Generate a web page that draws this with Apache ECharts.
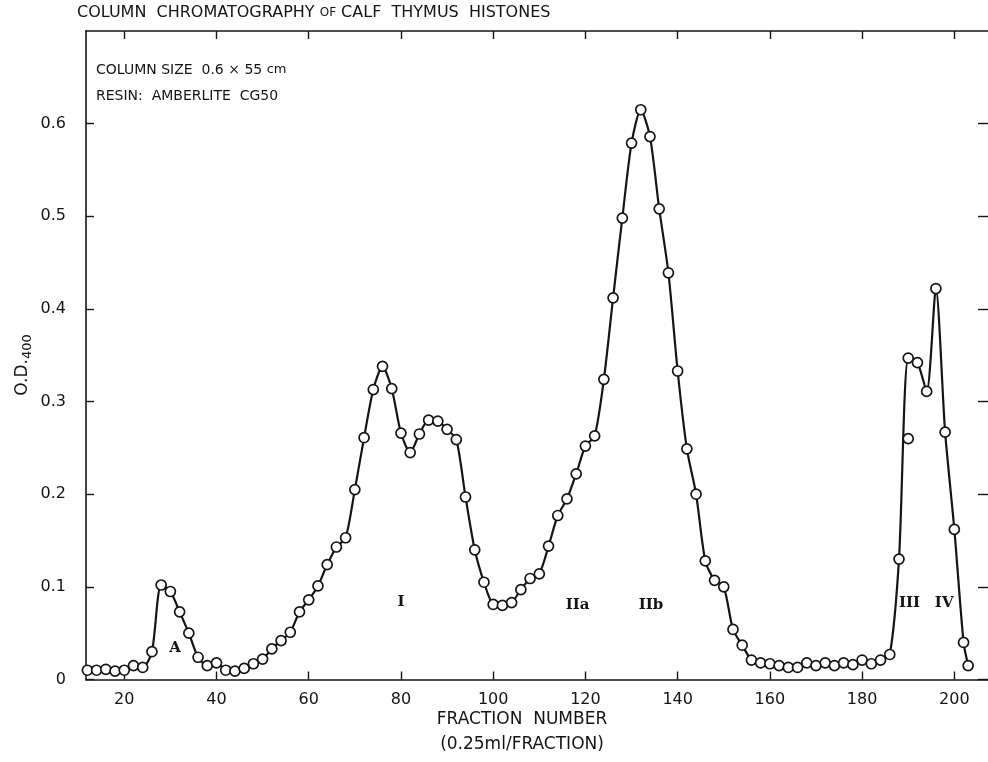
<!DOCTYPE html>
<html><head><meta charset="utf-8">
<script src="https://cdn.jsdelivr.net/npm/echarts@6/dist/echarts.min.js"></script>
<style>html,body{margin:0;padding:0;background:#fff}#c{width:988px;height:762px}</style>
</head><body><div id="c"></div>
<script>
// Fraction numbers (every 2nd fraction) and optical density at 400 nm
const fractions = [12,14,16,18,20,22,24,26,28,30,32,34,36,38,40,42,44,46,48,50,
  52,54,56,58,60,62,64,66,68,70,72,74,76,78,80,82,84,86,88,90,
  92,94,96,98,100,102,104,106,108,110,112,114,116,118,120,122,124,126,128,130,
  132,134,136,138,140,142,144,146,148,150,152,154,156,158,160,162,164,166,168,170,
  172,174,176,178,180,182,184,186,188,190,192,194,196,198,200,202,203];
const od = [0.010,0.010,0.011,0.009,0.010,0.015,0.013,0.030,0.102,0.095,
  0.073,0.050,0.024,0.015,0.018,0.010,0.009,0.012,0.017,0.022,
  0.033,0.042,0.051,0.073,0.086,0.101,0.124,0.143,0.153,0.205,
  0.261,0.313,0.338,0.314,0.266,0.245,0.265,0.280,0.279,0.270,
  0.259,0.197,0.140,0.105,0.081,0.080,0.083,0.097,0.109,0.114,
  0.144,0.177,0.195,0.222,0.252,0.263,0.324,0.412,0.498,0.579,
  0.615,0.586,0.508,0.439,0.333,0.249,0.200,0.128,0.107,0.100,
  0.054,0.037,0.021,0.018,0.017,0.015,0.013,0.013,0.018,0.015,
  0.018,0.015,0.018,0.016,0.021,0.017,0.021,0.027,0.130,0.347,
  0.342,0.311,0.422,0.267,0.162,0.040,0.015];
// Off-curve duplicate reading
const extraFractions = [190];
const extraOd = [0.260];
// Axis ticks
const xTicks = [20,40,60,80,100,120,140,160,180,200];
const yTicks = [0,0.1,0.2,0.3,0.4,0.5,0.6];
// Peak labels
const peakNames = ['A','I','IIa','IIb','III','IV'];
const peakX = [31,80,118.3,134.2,190.3,197.8];
const peakY = [0.034,0.083,0.080,0.080,0.082,0.082];

const INK = '#141414';
const FONT = 'DejaVu Sans';
const chart = echarts.init(document.getElementById('c'), null, {renderer: 'canvas'});

const axisLineStyle = {color: INK, width: 1.6};
const option = {
  backgroundColor: '#ffffff',
  animation: false,
  grid: {left: 86, right: 0, top: 31, bottom: 82.5, containLabel: false},
  xAxis: [
    {type: 'value', position: 'bottom', min: 11.7, max: 207.3,
      axisLine: {show: true, onZero: false, lineStyle: axisLineStyle},
      axisTick: {show: true, inside: true, length: 8, customValues: xTicks, lineStyle: {color: INK, width: 1.4}},
      axisLabel: {show: true, customValues: xTicks, margin: 12, color: INK, fontFamily: FONT, fontSize: 16},
      splitLine: {show: false}},
    {type: 'value', position: 'top', min: 11.7, max: 207.3,
      axisLine: {show: true, onZero: false, lineStyle: axisLineStyle},
      axisTick: {show: true, inside: true, length: 8, customValues: xTicks, lineStyle: {color: INK, width: 1.4}},
      axisLabel: {show: false}, splitLine: {show: false}}
  ],
  yAxis: [
    {type: 'value', position: 'left', min: 0, max: 0.7,
      axisLine: {show: true, onZero: false, lineStyle: axisLineStyle},
      axisTick: {show: true, inside: true, length: 8, customValues: yTicks, lineStyle: {color: INK, width: 1.4}},
      axisLabel: {show: true, customValues: yTicks, margin: 20, color: INK, fontFamily: FONT, fontSize: 16,
        formatter: v => v === 0 ? '0' : v.toFixed(1)},
      splitLine: {show: false}},
    {type: 'value', position: 'right', min: 0, max: 0.7,
      axisLine: {show: false, onZero: false},
      axisTick: {show: true, inside: true, length: 10, customValues: yTicks, lineStyle: {color: INK, width: 1.4}},
      axisLabel: {show: false}, splitLine: {show: false}}
  ],
  series: [
    {type: 'line', xAxisIndex: 0, yAxisIndex: 0,
      data: fractions.map((f, i) => [f, od[i]]),
      smooth: 0.25,
      symbol: 'circle', symbolSize: 10, showAllSymbol: true,
      lineStyle: {color: INK, width: 2.2},
      itemStyle: {color: '#ffffff', borderColor: INK, borderWidth: 1.7, opacity: 1},
      z: 3},
    {type: 'scatter', xAxisIndex: 0, yAxisIndex: 0,
      data: extraFractions.map((f, i) => [f, extraOd[i]]),
      symbol: 'circle', symbolSize: 10,
      itemStyle: {color: '#ffffff', borderColor: INK, borderWidth: 1.7, opacity: 1}, z: 4},
    {type: 'scatter', xAxisIndex: 0, yAxisIndex: 0,
      data: peakNames.map((n, i) => ({value: [peakX[i], peakY[i]], name: n})),
      symbolSize: 0, silent: true,
      itemStyle: {opacity: 1},
      label: {show: true, position: 'inside', formatter: p => p.name, opacity: 1,
        color: INK, fontFamily: 'DejaVu Serif', fontSize: 15, fontWeight: 'bold'},
      z: 5}
  ],
  graphic: [
    {type: 'text', left: 77, top: 5,
      style: {text: '{a|COLUMN  CHROMATOGRAPHY }{b|OF}{a| CALF  THYMUS  HISTONES}',
        rich: {a: {fontFamily: FONT, fontSize: 16, fill: INK}, b: {fontFamily: FONT, fontSize: 12, fill: INK}}}},
    {type: 'text', left: 96, top: 63,
      style: {text: '{a|COLUMN SIZE  0.6 × 55 }{b|cm}',
        rich: {a: {fontFamily: FONT, fontSize: 14, fill: INK}, b: {fontFamily: FONT, fontSize: 13, fill: INK}}}},
    {type: 'text', left: 96, top: 89,
      style: {text: 'RESIN:  AMBERLITE  CG50', fontFamily: FONT, fontSize: 14, fill: INK}},
    {type: 'text', x: 522, y: 720,
      style: {text: 'FRACTION  NUMBER', fontFamily: FONT, fontSize: 17, fill: INK, align: 'center', verticalAlign: 'middle'}},
    {type: 'text', x: 522, y: 745,
      style: {text: '(0.25ml/FRACTION)', fontFamily: FONT, fontSize: 17, fill: INK, align: 'center', verticalAlign: 'middle'}},
    {type: 'text', x: 23, y: 365, rotation: Math.PI / 2,
      style: {text: '{a|O.D.}{b|400}', align: 'center', verticalAlign: 'middle',
        rich: {a: {fontFamily: FONT, fontSize: 17, fill: INK, lineHeight: 22},
               b: {fontFamily: FONT, fontSize: 13, fill: INK, lineHeight: 22, padding: [9, 0, 0, 0]}}}}
  ]
};
chart.setOption(option);
</script>
</body></html>
